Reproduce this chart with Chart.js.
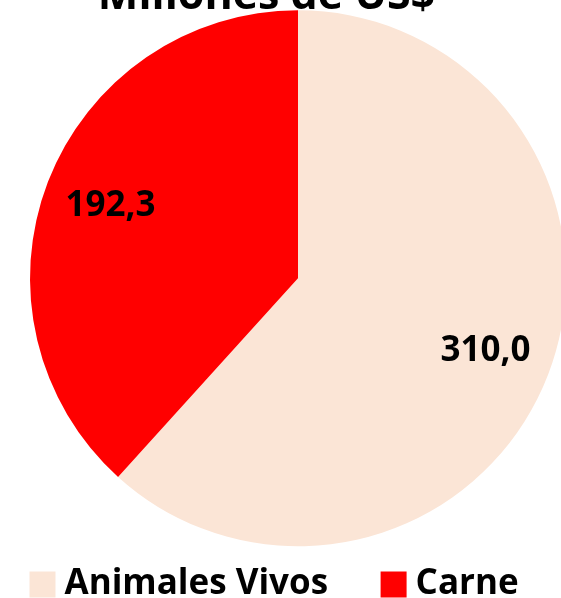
<!DOCTYPE html>
<html>
<head>
<meta charset="utf-8">
<script src="https://cdn.jsdelivr.net/npm/chart.js@4.4.0/dist/chart.umd.min.js"></script>
<style>
  html, body { margin: 0; padding: 0; overflow: hidden; background: #fff; width: 561px; height: 598px; }
  #wrap { position: absolute; left: -86px; top: -39px; width: 705px; height: 651px; }
</style>
</head>
<body>
<div id="wrap"><canvas id="pieChart"></canvas></div>
<script>
const categorias = ['Animales Vivos', 'Carne'];
const valores = [310.0, 192.3];
const colores = ['#FBE5D6', '#FF0000'];
const titulo = 'Millones de US$';

const fmt = v => v.toFixed(1).replace('.', ',');

// valores dentro de cada porcion
const etiquetas = {
  id: 'etiquetas',
  afterDatasetsDraw(chart) {
    const ctx = chart.ctx;
    const arcs = chart.getDatasetMeta(0).data;
    ctx.save();
    ctx.font = 'bold 35px "Open Sans"';
    ctx.fillStyle = '#000';
    ctx.textAlign = 'center';
    ctx.textBaseline = 'middle';
    arcs.forEach((arc, i) => {
      const p = arc.getProps(['x', 'y', 'startAngle', 'endAngle', 'outerRadius'], true);
      const mid = (p.startAngle + p.endAngle) / 2;
      const r = p.outerRadius * 0.75;
      ctx.fillText(fmt(valores[i]), p.x + Math.cos(mid) * r, p.y + Math.sin(mid) * r);
    });
    ctx.restore();
  }
};

new Chart(document.getElementById('pieChart'), {
  type: 'pie',
  data: {
    labels: categorias,
    datasets: [{
      data: valores,
      backgroundColor: colores,
      borderWidth: 0,
      radius: 268,
      clip: false
    }]
  },
  options: {
    responsive: true,
    maintainAspectRatio: false,
    animation: false,
    layout: { padding: 0 },
    scales: {
      // eje invisible: solo corre el pastel a la derecha
      y: {
        type: 'linear', display: true, min: 0, max: 1,
        ticks: { display: false }, grid: { display: false }, border: { display: false },
        afterFit: s => { s.width = 63; }
      }
    },
    plugins: {
      title: {
        display: true,
        text: titulo,
        color: '#000',
        font: { family: 'Open Sans', size: 43, weight: 'bold' },
        padding: { top: 10, bottom: 28 }
      },
      legend: {
        position: 'bottom',
        align: 'start',
        fullSize: false,
        labels: {
          color: '#000',
          font: { family: 'Open Sans', size: 35, weight: 'bold' },
          boxWidth: 9,
          boxHeight: 9,
          padding: 61,
          generateLabels: () => categorias.map((c, i) => ({
            text: c,
            fillStyle: colores[i],
            strokeStyle: colores[i],
            lineWidth: 17,
            lineJoin: 'miter',
            hidden: false,
            index: i
          }))
        }
      },
      tooltip: { enabled: false }
    }
  },
  plugins: [etiquetas]
});
</script>
</body>
</html>
